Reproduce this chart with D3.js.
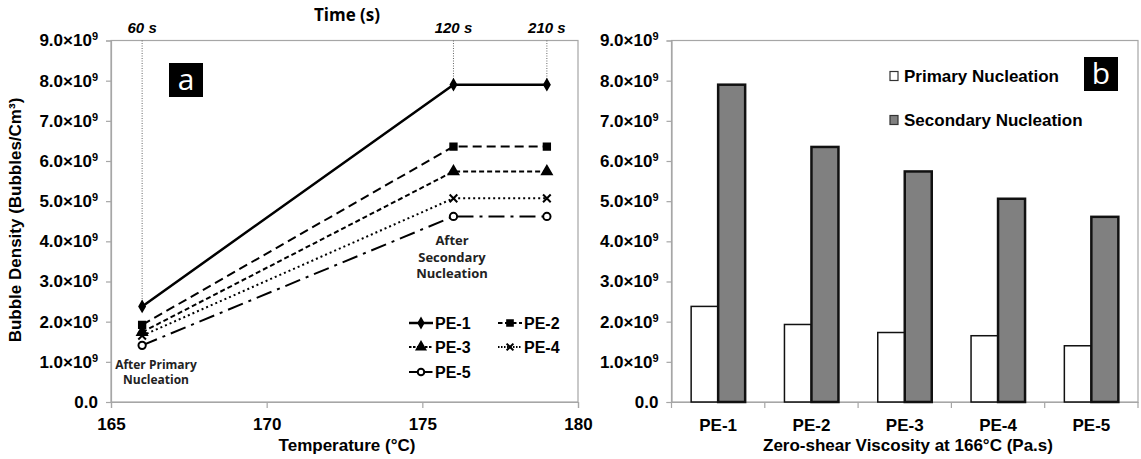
<!DOCTYPE html>
<html>
<head>
<meta charset="utf-8">
<script src="https://cdn.jsdelivr.net/npm/d3@7"></script>
<style>
  html, body { margin: 0; padding: 0; background: #fff; }
  svg { display: block; font-family: "Liberation Sans", Arial, sans-serif; }
  .tick text { font-family: "Liberation Sans", Arial, sans-serif; font-weight: bold; font-size: 17px; fill: #000; }
</style>
</head>
<body>
<svg id="chart" width="1141" height="459"></svg>
<script>
// Bubble density data (units of 10^9 bubbles/cm^3)
const temps = [166, 176, 179];
const timeLabels = ["60 s", "120 s", "210 s"];
const seriesNames = ["PE-1", "PE-2", "PE-3", "PE-4", "PE-5"];
const pe1 = [2.38, 7.90, 7.90];
const pe2 = [1.92, 6.36, 6.36];
const pe3 = [1.74, 5.74, 5.74];
const pe4 = [1.65, 5.07, 5.07];
const pe5 = [1.41, 4.62, 4.62];
const primary = [2.38, 1.93, 1.73, 1.65, 1.40];
const secondary = [7.90, 6.35, 5.74, 5.06, 4.61];
const yTicks = [0, 1, 2, 3, 4, 5, 6, 7, 8, 9];
const xTicks = [165, 170, 175, 180];

const lines = [pe1, pe2, pe3, pe4, pe5];

const svg = d3.select("#chart");
const GRID = "#a6a6a6";
const NOTE_FONT = "'Open Sans', Lato, sans-serif";

// y tick label like 9.0×10^9
function yLabel(sel) {
  sel.each(function (d) {
    const t = d3.select(this).text(null);
    if (d === 0) { t.text("0.0"); return; }
    t.append("tspan").text(d.toFixed(1) + "×10");
    t.append("tspan").attr("dy", -6).attr("font-size", 11).text("9");
  });
}

// ---------- panel a: line chart ----------
const A = { left: 111, right: 578, top: 40.5, bottom: 402 };
const xa = d3.scaleLinear().domain([165, 180]).range([A.left, A.right]);
const ya = d3.scaleLinear().domain([0, 9]).range([A.bottom, A.top]);

const ga = svg.append("g");
ga.append("rect").attr("x", A.left).attr("y", A.top)
  .attr("width", A.right - A.left).attr("height", A.bottom - A.top)
  .attr("fill", "none").attr("stroke", GRID).attr("stroke-width", 1.2);

const axA = ga.append("g").attr("transform", `translate(0,${A.bottom})`)
  .call(d3.axisBottom(xa).tickValues(xTicks).tickSize(6).tickPadding(7).tickFormat(d3.format("d")));
axA.selectAll("text").attr("dy", "0.9em");
const ayA = ga.append("g").attr("transform", `translate(${A.left},0)`)
  .call(d3.axisLeft(ya).tickValues(yTicks).tickSize(5).tickPadding(8));
ayA.selectAll(".tick text").call(yLabel);
ga.selectAll(".domain, .tick line").attr("stroke", GRID).attr("stroke-width", 1.2);

// time guide lines
temps.forEach((t, i) => {
  ga.append("line").attr("x1", xa(t)).attr("x2", xa(t))
    .attr("y1", A.top).attr("y2", ya(pe1[i]))
    .attr("stroke", "#666").attr("stroke-width", 1).attr("stroke-dasharray", "1,1.5");
  ga.append("text").attr("x", xa(t)).attr("y", 33).attr("text-anchor", "middle")
    .attr("font-size", 15).attr("font-weight", "bold").attr("font-style", "italic")
    .text(timeLabels[i]);
});

ga.append("text").attr("x", 347).attr("y", 21).attr("text-anchor", "middle")
  .attr("font-family", NOTE_FONT).attr("font-weight", "bold")
  .attr("font-size", 17).text("Time (s)");

const styles = [
  { dash: null, w: 2.5, sym: d3.symbolDiamond, size: 28, fill: "#000" },
  { dash: "9,5", w: 2, sym: d3.symbolSquare, size: 40, fill: "#000" },
  { dash: "5,3", w: 2, sym: d3.symbolTriangle, size: 40, fill: "#000" },
  { dash: "2,3", w: 2, sym: d3.symbolX, size: 40, fill: "none" },
  { dash: "16,6,3,6", w: 2, sym: d3.symbolCircle, size: 42, fill: "#fff" }
];

const lineGen = d3.line().x((d, i) => xa(temps[i])).y(d => ya(d));
lines.forEach((vals, k) => {
  const s = styles[k];
  ga.append("path").attr("d", lineGen(vals)).attr("fill", "none")
    .attr("stroke", "#000").attr("stroke-width", s.w)
    .attr("stroke-dasharray", s.dash);
  vals.forEach((v, i) => {
    ga.append("path").attr("d", d3.symbol(s.sym, s.size)())
      .attr("transform", `translate(${xa(temps[i])},${ya(v)})`)
      .attr("fill", s.fill).attr("stroke", "#000").attr("stroke-width", 2);
  });
});

// legend a
const legPos = [[409, 323], [498, 323], [409, 347], [498, 347], [409, 372]];
seriesNames.forEach((name, k) => {
  const s = styles[k];
  const [lx, ly] = legPos[k];
  ga.append("line").attr("x1", lx).attr("x2", lx + 24).attr("y1", ly).attr("y2", ly)
    .attr("stroke", "#000").attr("stroke-width", s.w)
    .attr("stroke-dasharray", s.dash ? s.dash.split(",").map(v => Math.max(1.5, v / 2)).join(",") : null);
  ga.append("path").attr("d", d3.symbol(s.sym, s.size * 0.8)())
    .attr("transform", `translate(${lx + 12},${ly})`)
    .attr("fill", s.fill).attr("stroke", "#000").attr("stroke-width", 2);
  ga.append("text").attr("x", lx + 26).attr("y", ly).attr("dy", "0.35em")
    .attr("font-size", 16).attr("font-weight", "bold").text(name);
});

// annotations (one text per line)
[["After Primary", 369], ["Nucleation", 384]].forEach(([s, y]) => {
  ga.append("text").attr("x", 156).attr("y", y).attr("text-anchor", "middle")
    .attr("font-family", NOTE_FONT).attr("font-weight", "bold").attr("font-size", 12)
    .attr("fill", "#222").text(s);
});
[["After", 245], ["Secondary", 262], ["Nucleation", 278]].forEach(([s, y]) => {
  ga.append("text").attr("x", 452).attr("y", y).attr("text-anchor", "middle")
    .attr("font-family", NOTE_FONT).attr("font-weight", "bold").attr("font-size", 13)
    .attr("fill", "#222").text(s);
});

ga.append("rect").attr("x", 169).attr("y", 63).attr("width", 34).attr("height", 34).attr("fill", "#000");
ga.append("text").attr("x", 186).attr("y", 79).attr("dy", "0.35em").attr("text-anchor", "middle")
  .attr("fill", "#fff").attr("font-family", NOTE_FONT).attr("font-size", 30).text("a");

ga.append("text").attr("x", 347).attr("y", 451).attr("text-anchor", "middle")
  .attr("font-size", 17).attr("font-weight", "bold").text("Temperature (°C)");
ga.append("text").attr("transform", "translate(21,220) rotate(-90)").attr("text-anchor", "middle")
  .attr("font-size", 17).attr("font-weight", "bold").text("Bubble Density (Bubbles/Cm³)");

// ---------- panel b: bar chart ----------
const B = { left: 671.5, right: 1138, top: 40.5, bottom: 402 };
const xb = d3.scaleBand().domain(seriesNames).range([B.left, B.right]);
const yb = d3.scaleLinear().domain([0, 9]).range([B.bottom, B.top]);
const barW = 27;

const gb = svg.append("g");
gb.append("rect").attr("x", B.left).attr("y", B.top)
  .attr("width", B.right - B.left).attr("height", B.bottom - B.top)
  .attr("fill", "none").attr("stroke", GRID).attr("stroke-width", 1.2);

const axB = gb.append("g").attr("transform", `translate(0,${B.bottom})`)
  .call(d3.axisBottom(xb).tickSize(0).tickPadding(14));
axB.selectAll("text").attr("dy", "0.9em");
// category boundary ticks
gb.append("g").selectAll("line").data(seriesNames.concat(["end"])).join("line")
  .attr("x1", (d, i) => B.left + i * xb.bandwidth()).attr("x2", (d, i) => B.left + i * xb.bandwidth())
  .attr("y1", B.bottom).attr("y2", B.bottom + 6).attr("stroke", GRID).attr("stroke-width", 1.2);
const ayB = gb.append("g").attr("transform", `translate(${B.left},0)`)
  .call(d3.axisLeft(yb).tickValues(yTicks).tickSize(5).tickPadding(8));
ayB.selectAll(".tick text").call(yLabel);
gb.selectAll(".domain, .tick line").attr("stroke", GRID).attr("stroke-width", 1.2);

const cx = d => xb(d) + xb.bandwidth() / 2;
gb.append("g").selectAll("rect").data(seriesNames).join("rect")
  .attr("x", d => cx(d) - barW).attr("width", barW)
  .attr("y", (d, i) => yb(primary[i])).attr("height", (d, i) => yb(0) - yb(primary[i]))
  .attr("fill", "#fff").attr("stroke", "#111").attr("stroke-width", 1.5);
gb.append("g").selectAll("rect").data(seriesNames).join("rect")
  .attr("x", d => cx(d)).attr("width", barW)
  .attr("y", (d, i) => yb(secondary[i])).attr("height", (d, i) => yb(0) - yb(secondary[i]))
  .attr("fill", "#808080").attr("stroke", "#111").attr("stroke-width", 2.5);

// legend b
[["Primary Nucleation", "#fff", 76], ["Secondary Nucleation", "#808080", 120]].forEach(([label, fill, y]) => {
  gb.append("rect").attr("x", 890).attr("y", y - 4.5).attr("width", 8).attr("height", 9)
    .attr("fill", fill).attr("stroke", "#333").attr("stroke-width", 1.2);
  gb.append("text").attr("x", 904).attr("y", y).attr("dy", "0.35em")
    .attr("font-size", 17).attr("font-weight", "bold").text(label);
});

gb.append("rect").attr("x", 1084).attr("y", 57).attr("width", 34).attr("height", 34).attr("fill", "#000");
gb.append("text").attr("x", 1101).attr("y", 73).attr("dy", "0.35em").attr("text-anchor", "middle")
  .attr("fill", "#fff").attr("font-family", NOTE_FONT).attr("font-size", 30).text("b");

gb.append("text").attr("x", 908).attr("y", 451).attr("text-anchor", "middle")
  .attr("font-size", 17).attr("font-weight", "bold").text("Zero-shear Viscosity at 166°C (Pa.s)");
</script>
</body>
</html>
